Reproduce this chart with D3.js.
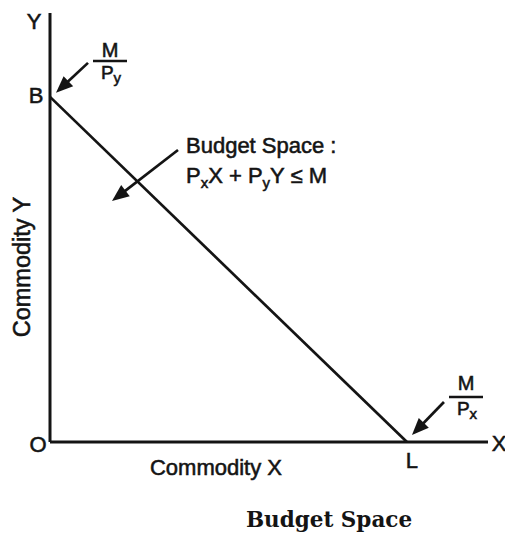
<!DOCTYPE html>
<html>
<head>
<meta charset="utf-8">
<script src="https://cdn.jsdelivr.net/npm/d3@7/dist/d3.min.js"></script>
<style>
  html, body { margin: 0; padding: 0; background: #fff; }
  svg { display: block; }
  .sans { font-family: "Liberation Sans", Arial, sans-serif; fill: #141414; stroke: #141414; stroke-width: 0.55px; }
  .serif { font-family: "DejaVu Serif", serif; fill: #141414; }
</style>
</head>
<body>
<script>
// Consumer's budget: income and the two prices
const income = [100];
const prices = [10, 10];            // [Px, Py]
const axisTitles = ["Commodity X", "Commodity Y"];
const axisEnds = ["X", "Y"];
const pointNames = ["O", "B", "L"];
const spaceLabel = ["Budget Space :"];
const caption = ["Budget Space"];

const W = 505, H = 536;
const M = income[0], Px = prices[0], Py = prices[1];
const xMax = M / Px * 1.227, yMax = M / Py * 1.243;

const x = d3.scaleLinear().domain([0, xMax]).range([50, 488]);
const y = d3.scaleLinear().domain([0, yMax]).range([442, 13]);

const svg = d3.select("body").append("svg").attr("width", W).attr("height", H);
const ink = "#141414";

// axes
svg.append("line").attr("x1", x(0)).attr("y1", y(0)).attr("x2", x(0)).attr("y2", y(yMax))
  .attr("stroke", ink).attr("stroke-width", 3);
svg.append("line").attr("x1", x(0)).attr("y1", y(0)).attr("x2", x(xMax)).attr("y2", y(0))
  .attr("stroke", ink).attr("stroke-width", 3);

// budget line B -> L
const budget = [[0, M / Py], [M / Px, 0]];
svg.append("path")
  .attr("d", d3.line().x(d => x(d[0])).y(d => y(d[1]))(budget))
  .attr("fill", "none").attr("stroke", ink).attr("stroke-width", 2.7);

// arrow helper: shaft from tail to head with filled triangle head
function arrow(tx, ty, hx, hy) {
  const ang = Math.atan2(hy - ty, hx - tx);
  const len = 17, half = 7;
  const bx = hx - len * Math.cos(ang), by = hy - len * Math.sin(ang);
  svg.append("line").attr("x1", tx).attr("y1", ty).attr("x2", bx + 2 * Math.cos(ang)).attr("y2", by + 2 * Math.sin(ang))
    .attr("stroke", ink).attr("stroke-width", 2.7);
  const px = -Math.sin(ang) * half, py = Math.cos(ang) * half;
  svg.append("polygon")
    .attr("points", [[hx, hy], [bx + px, by + py], [bx - px, by - py]].map(p => p.join(",")).join(" "))
    .attr("fill", ink);
}

const Bx = x(0), By = y(M / Py), Lx = x(M / Px), Ly = y(0);

arrow(Bx + 38, By - 34, Bx + 6, By - 4);
arrow(Lx + 37, Ly - 40, Lx + 5, Ly - 7);
arrow(178, 150, 112, 201);

// axis end letters and point names
const t = (txt, px, py, size, anchor) => svg.append("text").attr("class", "sans")
  .attr("x", px).attr("y", py).attr("font-size", size).attr("text-anchor", anchor || "middle").text(txt);

t(axisEnds[1], x(0) - 16, 29, 22);
t(axisEnds[0], 499, y(0) + 9, 22);
t(pointNames[0], x(0) - 12, y(0) + 10, 22);
t(pointNames[1], Bx - 14, By + 6, 22);
t(pointNames[2], Lx + 5, Ly + 26, 22);

// axis titles
t(axisTitles[0], 216, y(0) + 33, 22);
svg.append("text").attr("class", "sans").attr("font-size", 23.5).attr("text-anchor", "middle")
  .attr("transform", `translate(30, 267) rotate(-90)`).text(axisTitles[1]);

// intercept fractions M/Py and M/Px
function fraction(cx, numY, barY, denY, sub) {
  svg.append("text").attr("class", "sans").attr("x", cx).attr("y", numY)
    .attr("font-size", 20).attr("text-anchor", "middle").text("M");
  svg.append("line").attr("x1", cx - 17).attr("x2", cx + 17).attr("y1", barY).attr("y2", barY)
    .attr("stroke", ink).attr("stroke-width", 2.4);
  const d = svg.append("text").attr("class", "sans").attr("x", cx + 1).attr("y", denY)
    .attr("font-size", 19).attr("text-anchor", "middle");
  d.append("tspan").text("P");
  d.append("tspan").attr("font-size", 15).attr("dy", 4).text(sub);
}
fraction(110, 57, 61, 79, "y");
fraction(466, 390, 397, 415, "x");

// budget space annotation
t(spaceLabel[0], 186, 153, 22, "start");
const eq = svg.append("text").attr("class", "sans").attr("x", 186).attr("y", 183)
  .attr("font-size", 22);
eq.append("tspan").text("P");
eq.append("tspan").attr("font-size", 15).attr("dy", 5).text("x");
eq.append("tspan").attr("dy", -5).text("X + P");
eq.append("tspan").attr("font-size", 15).attr("dy", 5).text("y");
eq.append("tspan").attr("dy", -5).text("Y \u2264 M");

// caption
svg.append("text").attr("class", "serif").attr("x", 329).attr("y", 527)
  .attr("font-size", 21.5).attr("font-weight", "bold").attr("text-anchor", "middle").text(caption[0]);
</script>
</body>
</html>
